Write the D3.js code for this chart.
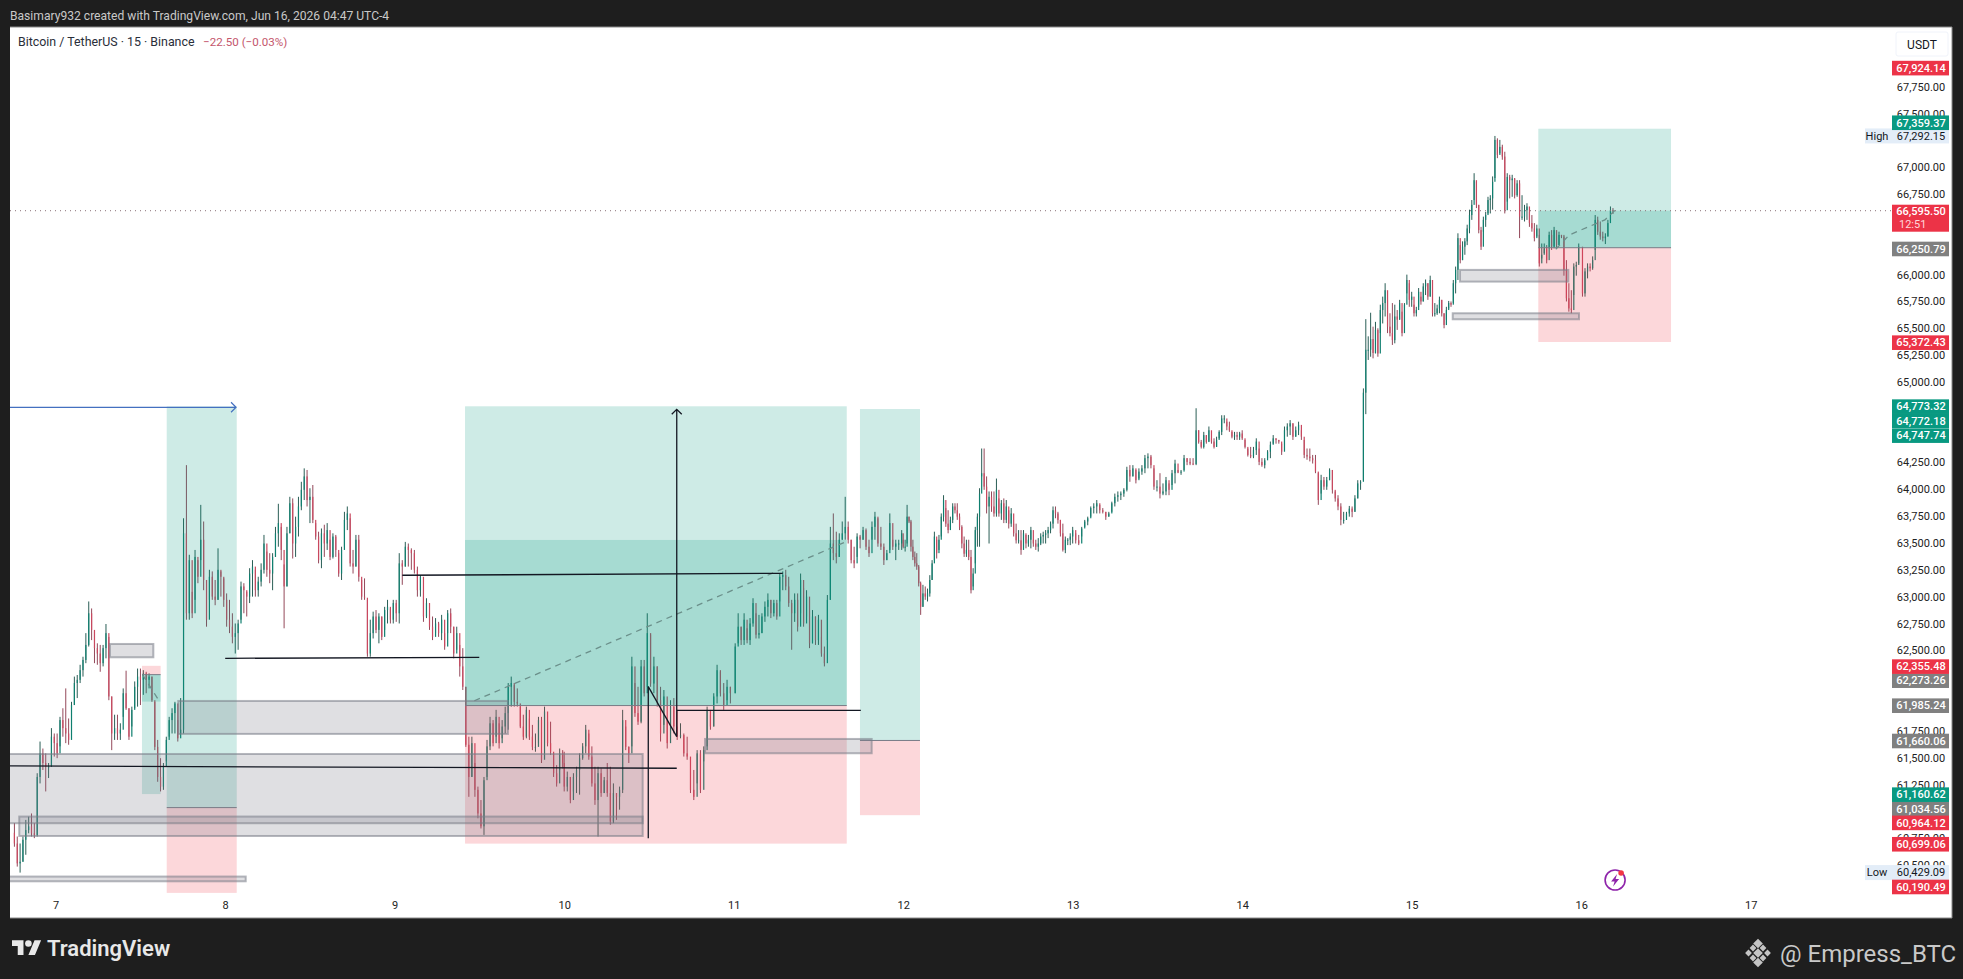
<!DOCTYPE html>
<html lang="en">
<head>
<meta charset="UTF-8">
<title>Bitcoin / TetherUS 15</title>
<style>
    html, body { margin: 0; padding: 0; background: #1e1e1e; overflow: hidden; }
    svg { display: block; }
    text { font-family: Roboto, "Noto Sans", sans-serif; }
</style>
</head>
<body>
<svg id="chart" width="1963" height="979"></svg>
<script src="https://cdn.jsdelivr.net/npm/d3@7/dist/d3.min.js"></script>
<script>
// one table per calendar day, rows are [high, low, close], open is the previous close
const day6 = [[60890,60670,60700],[60765,60485,60515],[60700,60429,60530],[60765,60530,60735],[60920,60595,60825],[60950,60795,60860],[60980,60765,60795],[60890,60750,60780],[61355,60765,61320],[61650,61260,61540],[61585,61385,61450],[61540,61185,61415],[61450,61310,61415],[61775,61415,61695],[61725,61510,61635]]
const day7 = [[61725,61495,61540],[61880,61605,61850],[61960,61695,61775],[62145,61635,61725],[61865,61620,61665],[62020,61775,61990],[62255,61990,62195],[62270,62055,62225],[62365,62195,62315],[62440,62255,62410],[62660,62380,62550],[62955,62535,62845],[62890,62595,62690],[62675,62380,62520],[62565,62365,62470],[62550,62300,62380],[62550,62350,62520],[62745,62425,62660],[62625,62035,62070],[62070,61570,61725],[61900,61665,61775],[61900,61665,61725],[61820,61665,61760],[62145,61880,62100],[62310,61945,61960],[61960,61665,61695],[61975,61790,61945],[62210,61960,62160],[62330,61975,62255],[62330,61990,62225],[62315,62085,62285],[62300,62100,62225],[62285,62145,62255],[62255,62020,62035],[62020,61570,61600],[61665,61275,61320],[61495,61185,61230],[61450,61200,61415],[61695,61465,61665],[61880,61695,61850],[61960,61725,61915],[62020,61725,62005],[61850,61650,61680],[62055,61725,61760],[63730,61725,63590],[64225,62785,62845],[63390,62785,63340],[63045,62800,62845],[63435,62970,63370],[63340,63125,63185],[63855,63340,63530],[63700,63060,63155],[63155,62720,62785],[63250,62970,63185],[63235,62970,63000],[63155,62920,62970],[63450,62970,63250],[63235,63000,63185],[63170,62905,62970]]
const day8 = [[63030,62720,62785],[62970,62660,62720],[62845,62565,62625],[62750,62470,62660],[62785,62505,62750],[63140,62785,63095],[63125,62845,63060],[63045,62815,63000],[63265,62940,63215],[63340,63000,63280],[63250,63000,63060],[63185,63000,63140],[63310,63095,63250],[63575,63215,63495],[63420,63185,63250],[63405,63125,63215],[63405,63060,63370],[63650,63370,63590],[63865,63465,63685],[63650,63340,63435],[63300,62705,63095],[63650,63095,63590],[63930,63590,63870],[63915,63355,63495],[63745,63370,63650],[63930,63560,63840],[64070,63805,63995],[64195,63900,64120],[64180,63840,63900],[64010,63685,63930],[64040,63685,63715],[63685,63530,63560],[63605,63310,63340],[63635,63265,63590],[63670,63370,63495],[63685,63435,63620],[63530,63340,63370],[63590,63355,63560],[63575,63370,63435],[63405,63185,63215],[63465,63155,63435],[63790,63465,63715],[63840,63620,63775],[63730,63280,63310],[63435,63215,63280],[63575,63280,63530],[63575,63140,63185],[63155,62970,63000],[63170,62970,62990],[62970,62440,62470],[62785,62440,62660],[62860,62610,62815],[62875,62660,62690],[62845,62565,62815],[62815,62595,62625],[62905,62690,62875],[62970,62750,62905],[62890,62750,62785],[62970,62750,62940]]
const day9 = [[62970,62765,62845],[63405,62750,63310],[63340,63110,63280],[63510,63280,63465],[63495,63280,63435],[63450,63250,63405],[63435,63215,63250],[63280,63000,63060],[63200,63000,63185],[63000,62765,62815],[62985,62800,62940],[62940,62690,62720],[62815,62595,62625],[62800,62660,62750],[62765,62625,62660],[62830,62595,62785],[62660,62505,62535],[62875,62660,62845],[62890,62660,62720],[62720,62425,62470],[62720,62505,62660],[62550,62255,62350],[62520,62130,62160],[62160,61600,61620],[61695,61135,61320],[61695,61320,61635],[61450,61135,61200],[61230,60935,60980],[61105,60840,60860],[61320,60780,61290],[61665,61320,61605],[61880,61570,61820],[61850,61605,61635],[61945,61695,61880],[61820,61585,61635],[61850,61680,61790],[61975,61725,61915],[62195,61760,62160],[62255,61975,62195],[62175,61975,62020],[62145,61975,62005],[61975,61775,61790],[61900,61665,61695],[61975,61680,61945],[61865,61665,61695],[61805,61570,61600],[61725,61555,61600],[61880,61635,61850],[61880,61450,61480],[61975,61635,61930],[61835,61605,61635],[61835,61525,61555],[61540,61320,61355],[61430,61230,61260],[61585,61385,61540],[61570,61400,61450]]
const day10 = [[61555,61185,61230],[61370,61185,61320],[61320,61075,61105],[61355,61185,61320],[61415,61170,61385],[61540,61155,61495],[61635,61480,61605],[61805,61540,61760],[61725,61480,61510],[61605,61230,61260],[61415,61060,61105],[61415,60765,61355],[61400,61135,61170],[61320,61170,61290],[61450,61135,61170],[61415,60875,60905],[61260,60890,61170],[61170,60920,61135],[61230,61015,61200],[61945,61170,61850],[61790,61570,61600],[61605,61450,61540],[62440,61605,62350],[62195,61880,61915],[62160,61805,61835],[62410,61820,62350],[62410,62070,62100],[62845,62160,62660],[62645,62160,62190],[62440,62100,62350],[62350,61975,62035],[62160,61650,61725],[62130,61805,62070],[61850,61585,61635],[62035,61725,61975],[62055,61725,61790],[61945,61665,61695],[61820,61680,61710],[61725,61510,61540],[61695,61480,61510],[61500,61170,61200],[61385,61105,61135],[61570,61260,61540],[61570,61170,61200],[61605,61465,61570],[61975,61605,61945],[61900,61760,61790],[62100,61790,62070],[62365,62005,62315],[62300,62070,62100],[62195,61945,61990],[62225,62035,62160],[62160,62005,62100]]
const day11 = [[62565,62100,62535],[62845,62565,62720],[62720,62550,62595],[62845,62550,62785],[62705,62565,62595],[62800,62550,62750],[62985,62720,62940],[62845,62610,62645],[62830,62610,62660],[62845,62660,62815],[62955,62765,62905],[63030,62815,62970],[62970,62800,62845],[62970,62815,62940],[62970,62785,62815],[63215,62955,63185],[63235,63060,63200],[63250,63060,63095],[63185,62905,62940],[62970,62505,62845],[63030,62765,62970],[63030,62675,62720],[63215,62845,63155],[63080,62720,62750],[63060,62815,63000],[62875,62520,62565],[62875,62565,62815],[62815,62550,62595],[62830,62550,62785],[62625,62440,62470],[62535,62350,62380],[63015,62595,62970],[63650,62970,63495],[63775,63340,63405],[63605,63310,63370],[63590,63370,63530],[63700,63530,63590],[63930,63530,63650],[63700,63495,63530],[63530,63310,63340],[63465,63265,63310],[63590,63370,63560],[63575,63450,63530],[63650,63530,63620],[63635,63435,63465],[63530,63370,63405],[63700,63530,63650],[63790,63530,63745],[63730,63465,63495],[63650,63435,63465],[63495,63295,63340],[63435,63340,63405],[63775,63435,63685],[63530,63435,63465],[63530,63340,63495],[63530,63435,63495],[63620,63435,63590]]
const day12 = [[63530,63450,63465],[63530,63420,63465],[63855,63495,63745],[63745,63685,63700],[63715,63420,63465],[63530,63340,63370],[63420,63280,63310],[63405,63250,63280],[63295,63095,63125],[63140,62830,62905],[63110,62905,63030],[63095,62970,63000],[63075,62955,63030],[63200,63000,63155],[63340,63155,63310],[63605,63340,63560],[63530,63355,63405],[63575,63435,63530],[63775,63560,63745],[63945,63700,63900],[63825,63650,63680],[63805,63590,63620],[63745,63650,63715],[63870,63685,63840],[63870,63775,63805],[63870,63715,63745],[63775,63620,63650],[63665,63450,63495],[63560,63370,63400],[63530,63370,63435],[63530,63340,63370],[63435,63030,63060],[63265,63095,63215],[63650,63310,63620],[63775,63465,63745],[64010,63465,63960],[64380,64120,64150],[64380,63995,64025],[64120,63775,63840],[63980,63495,63930],[63980,63790,63840],[63980,63745,63775],[64100,63745,63995],[63915,63745,63775],[63900,63715,63870],[63915,63685,63715],[63900,63685,63840],[63805,63635,63680],[63825,63650,63775],[63680,63560,63590],[63680,63495,63525],[63620,63495,63525],[63620,63390,63435],[63620,63465,63590],[63575,63450,63495],[63575,63465,63530],[63650,63450,63620],[63530,63465,63495],[63530,63435,63465],[63545,63420,63495],[63590,63480,63560],[63605,63495,63575],[63620,63495,63590],[63650,63545,63620],[63700,63590,63680],[63840,63635,63805],[63840,63730,63775],[63790,63680,63715],[63715,63560,63590],[63680,63420,63435],[63560,63405,63530],[63545,63480,63530],[63590,63480,63560]]
const day13 = [[63650,63495,63620],[63590,63495,63525],[63575,63480,63495],[63650,63560,63635],[63715,63650,63700],[63745,63665,63730],[63840,63745,63825],[63870,63775,63840],[63900,63775,63870],[63855,63775,63805],[63825,63775,63790],[63790,63715,63745],[63790,63745,63775],[63885,63790,63870],[63960,63840,63930],[63980,63885,63945],[63980,63900,63960],[64010,63930,63995],[64210,63980,64180],[64225,64070,64120],[64225,64120,64195],[64180,64055,64085],[64195,64100,64165],[64225,64135,64195],[64320,64150,64290],[64335,64195,64305],[64320,64195,64225],[64195,63995,64025],[64085,63980,64025],[64150,63915,63960],[64055,63945,63980],[64115,63945,64085],[64055,63945,63995],[64180,64040,64150],[64275,64055,64240],[64180,64150,64155],[64180,64135,64165],[64320,64180,64290],[64290,64225,64255],[64290,64225,64240],[64290,64225,64235],[64755,64225,64550],[64550,64425,64440],[64460,64380,64395],[64535,64380,64505],[64505,64425,64440],[64585,64445,64550],[64475,64425,64445],[64475,64380,64395],[64490,64395,64460],[64550,64475,64535],[64690,64505,64660],[64690,64615,64660],[64630,64550,64585],[64630,64535,64550],[64535,64475,64490],[64535,64460,64505],[64535,64460,64490],[64535,64460,64520]]
const day14 = [[64550,64460,64475],[64460,64380,64395],[64380,64305,64320],[64395,64290,64305],[64395,64290,64365],[64475,64320,64445],[64380,64225,64255],[64290,64210,64225],[64290,64195,64270],[64365,64290,64350],[64445,64290,64415],[64505,64425,64475],[64475,64425,64460],[64460,64425,64445],[64425,64320,64350],[64585,64415,64550],[64615,64490,64585],[64645,64505,64615],[64615,64460,64490],[64585,64490,64550],[64630,64505,64600],[64550,64460,64490],[64460,64290,64320],[64380,64275,64305],[64380,64260,64290],[64320,64240,64270],[64320,64150,64165],[64150,63855,63900],[64135,63960,64085],[64115,63995,64025],[64115,63995,64085],[64195,64085,64180],[64180,63960,63995],[63980,63885,63915],[63945,63805,63840],[63870,63665,63715],[63790,63680,63715],[63790,63715,63775],[63845,63745,63820],[63840,63740,63790],[63945,63790,63915],[64085,63915,64055],[64085,63995,64070],[64940,64085,64900],[65585,64700,65300],[65425,65205,65300],[65645,65235,65400],[65515,65220,65270],[65560,65265,65485],[65500,65235,65265],[65720,65455,65670],[65795,65545,65735],[65920,65610,65855],[65765,65455,65515],[65640,65425,65455],[65735,65345,65390],[65720,65360,65610],[65670,65485,65580],[65765,65580,65735],[65655,65425,65455],[65735,65655,65720],[66000,65825,65950],[65920,65700,65765]]
const day15 = [[65840,65700,65795],[65720,65610,65640],[65700,65610,65670],[65875,65700,65840],[65795,65720,65750],[65920,65750,65890],[65955,65810,65920],[65920,65765,65795],[65990,65795,65950],[65765,65610,65640],[65735,65610,65640],[65720,65625,65685],[65795,65640,65765],[65765,65610,65640],[65640,65500,65530],[65700,65580,65670],[65755,65685,65735],[65750,65700,65720],[65950,65735,65920],[66075,65825,66045],[66385,65950,66340],[66275,66105,66135],[66310,66135,66260],[66340,66185,66310],[66465,66275,66430],[66605,66385,66555],[66695,66510,66650],[66945,66695,66880],[66865,66620,66650],[66650,66385,66415],[66445,66230,66260],[66540,66400,66510],[66585,66445,66555],[66725,66570,66695],[66740,66570,66710],[66915,66605,66865],[67292,66900,67255],[67270,67085,67115],[67255,67130,67190],[67210,67070,67100],[67145,66570,66600],[66945,66680,66910],[66930,66710,66880],[66930,66725,66895],[66900,66710,66740],[66880,66725,66850],[66880,66340,66540],[66740,66510,66540],[66650,66495,66600],[66665,66510,66635],[66585,66445,66480],[66555,66400,66430],[66480,66310,66340],[66465,66355,66430],[66370,66075,66105],[66290,66150,66185],[66290,66200,66245],[66275,66105,66135],[66400,66245,66370],[66415,66230,66260],[66445,66245,66415],[66355,66245,66275],[66400,66275,66370],[66370,66340,66355],[66370,65990,66045],[66135,65750,65780],[65920,65655,65685],[65855,65640,65670],[66105,65810,66075],[66120,65990,66090],[66290,66105,66260]]
const day16 = [[65965,65795,65825],[66060,65795,66030],[66105,65965,66075],[66105,66030,66060],[66170,66045,66135],[66555,66230,66510],[66540,66370,66400],[66495,66325,66355],[66400,66310,66340],[66385,66285,66355],[66510,66355,66480],[66635,66495,66600],[66620,66565,66595.5]]

const firstOpen = 60800
const lastPrice = 66595.5

const dayLabels = [7, 8, 9, 10, 11, 12, 13, 14, 15, 16, 17]
// ticks that sit fully behind a price tag on the original are left out
const priceTicks = [60500, 60750, 61250, 61500, 61750, 62500, 62750, 63000, 63250, 63500, 63750, 64000, 64250, 65000, 65250, 65500, 65750, 66000, 66750, 67000, 67500, 67750]

// [row, time] pins for the big candles, so they stay on the right spot inside their day
const pins12 = [[9, 12.103], [31, 12.40], [36, 12.463]]
const pins10 = [[27, 10.49]]
const pins13 = [[41, 13.728]]
const pins14 = [[43, 14.715]]
const pins15 = [[36, 15.491]]

// long / short position tools: times in days, levels in USDT
const positions = [
    {t0: 7.509, t1: 7.619, target: 61160.62, entry: 62273.26, stop: 62355.48, reached: 62022},
    {t0: 7.655, t1: 8.068, target: 64772.18, entry: 61034.56, stop: 60240, reached: null},
    {t0: 9.415, t1: 11.667, target: 64773.32, entry: 61985.24, stop: 60699.06, reached: 63528},
    {t0: 11.745, t1: 12.099, target: 64747.74, entry: 61660.06, stop: 60964.12, reached: null},
    {t0: 15.747, t1: 16.53, target: 67359.37, entry: 66250.79, stop: 65372.43, reached: 66595.5},
]

// grey rectangles [t0, t1, top, bottom]
const boxes = [
    [7.320, 7.576, 62559, 62435],
    [7.723, 9.668, 62028, 61721],
    [6.70, 10.463, 61534, 60889],
    [6.785, 10.463, 60951, 60770],
    [6.70, 8.121, 60392, 60348],
    [10.831, 11.814, 61674, 61541],
    [15.285, 15.924, 66044, 65935],
    [15.242, 15.987, 65640, 65584],
]

// black trend lines [t0, p0, t1, p1]
const lines = [
    [8.0, 62425, 9.499, 62435],
    [9.045, 63199, 11.289, 63217],
    [6.70, 61423, 10.664, 61401],
    [10.496, 62162, 10.664, 61696],
    [10.496, 62162, 10.496, 60749],
    [10.664, 61941, 11.75, 61941],
]

// dashed paths from entry to exit of each position
const dashPaths = [
    [[7.512, 62273], [7.61, 62030]],
    [[9.47, 62030], [11.66, 63510]],
    [[15.85, 66236], [15.93, 66370], [16.14, 66510], [16.2, 66600]],
]

const upArrow = [10.664, 61696, 64745]
const blueArrow = [6.70, 8.064, 64764]

// price tags on the axis: text and where the tag ends up after the stacking
const redTags = [['67,924.14', 67924], ['65,372.43', 65366], ['62,355.48', 62348], ['60,964.12', 60892], ['60,699.06', 60693], ['60,190.49', 60295]]
const greenTags = [['67,359.37', 67415], ['64,773.32', 64770], ['64,772.18', 64639], ['64,747.74', 64500], ['61,160.62', 61155]]
const greyTags = [['66,250.79', 66239], ['62,273.26', 62217], ['61,985.24', 61984], ['61,660.06', 61655], ['61,034.56', 61022]]
const extremes = [['High', '67,292.15', 67292.15], ['Low', '60,429.09', 60429.09]]

const upCol = '#0f7f6f', downCol = '#c9485f'
const upWick = '#2a5e56', downWick = '#94485a'

const svg = d3.select('#chart')
const chart = {left: 10, right: 1952, top: 27, bottom: 918}

const x = d3.scaleLinear().domain([7, 17]).range([55.7, 1750.7])
const y = d3.scaleLinear().domain([60006, 68307]).range([chart.bottom, chart.top])

svg.append('rect').attr('x', chart.left).attr('y', chart.top)
    .attr('width', chart.right - chart.left).attr('height', chart.bottom - chart.top)
    .attr('fill', '#fff')
svg.append('path').attr('d', `M${chart.left},${chart.top}H${chart.right}V${chart.bottom}H${chart.left}`)
    .attr('fill', 'none').attr('stroke', '#8a8a8a').attr('stroke-width', 1)

svg.append('clipPath').attr('id', 'pane').append('rect')
    .attr('x', chart.left).attr('y', chart.top)
    .attr('width', 1892 - chart.left).attr('height', chart.bottom - chart.top)

// axes
const yAxis = d3.axisRight(y).tickValues(priceTicks).tickSize(0).tickPadding(0).tickFormat(d3.format(',.2f'))
const gy = svg.append('g').attr('transform', 'translate(1921,0)').call(yAxis)
gy.select('.domain').remove()
gy.selectAll('text').attr('x', 0).attr('text-anchor', 'middle').attr('font-size', 11).attr('fill', '#222')

const xAxis = d3.axisBottom(x).tickValues(dayLabels).tickSize(0).tickPadding(0).tickFormat(d3.format('d'))
const gx = svg.append('g').attr('transform', 'translate(0,901.5)').call(xAxis)
gx.select('.domain').remove()
gx.selectAll('text').attr('font-size', 11).attr('fill', '#222')

// candles
const segments = [[6.748, 7, day6], [7, 8, day7], [8, 9, day8], [9, 10, day9], [10, 11, day10, pins10], [11, 12, day11], [12, 13, day12, pins12], [13, 14, day13, pins13], [14, 15, day14, pins14], [15, 16, day15, pins15], [16, 16.195, day16]]
let prevClose = firstOpen
const bars = segments.flatMap(([t0, t1, rows, pins = []]) => {
    const timeOf = d3.scaleLinear()
        .domain([0, ...pins.map(p => p[0]), rows.length])
        .range([t0, ...pins.map(p => p[1]), t1])
    return rows.map((r, j) => {
        const bar = {t: timeOf(j + (pins.length ? 0 : 0.5)), high: r[0], low: r[1], open: prevClose, close: r[2]}
        prevClose = r[2]
        return bar
    })
})

const pane = svg.append('g').attr('clip-path', 'url(#pane)')
const candles = pane.append('g')
candles.selectAll('line').data(bars).enter().append('line')
    .attr('x1', d => x(d.t)).attr('x2', d => x(d.t))
    .attr('y1', d => y(d.high)).attr('y2', d => y(d.low))
    .attr('stroke', d => d.close >= d.open ? upWick : downWick)
    .attr('stroke-width', 1)
candles.selectAll('rect').data(bars).enter().append('rect')
    .attr('x', d => x(d.t) - 0.6).attr('width', 1.2)
    .attr('y', d => y(Math.max(d.open, d.close)))
    .attr('height', d => Math.max(1, Math.abs(y(d.open) - y(d.close))))
    .attr('fill', d => d.close >= d.open ? upCol : downCol)

// position tools
const teal = 'rgba(8,153,129,0.2)', pink = 'rgba(242,54,69,0.2)'
function band(t0, t1, a, b, fill) {
    pane.append('rect').attr('x', x(t0)).attr('width', x(t1) - x(t0))
        .attr('y', y(Math.max(a, b))).attr('height', Math.abs(y(a) - y(b))).attr('fill', fill)
}
positions.forEach(p => {
    band(p.t0, p.t1, p.target, p.entry, teal)
    band(p.t0, p.t1, p.entry, p.stop, pink)
    if (p.reached) band(p.t0, p.t1, p.entry, p.reached, teal)
    pane.append('line').attr('x1', x(p.t0)).attr('x2', x(p.t1)).attr('y1', y(p.entry)).attr('y2', y(p.entry))
        .attr('stroke', '#787b86').attr('stroke-width', 1)
})
const dashLine = d3.line().x(d => x(d[0])).y(d => y(d[1]))
pane.selectAll('path.dash').data(dashPaths).enter().append('path').attr('class', 'dash')
    .attr('d', dashLine).attr('fill', 'none').attr('stroke', '#6b8f8a')
    .attr('stroke-width', 1.3).attr('stroke-dasharray', '6 5')

// grey boxes
pane.selectAll('rect.box').data(boxes).enter().append('rect').attr('class', 'box')
    .attr('x', d => x(d[0])).attr('width', d => x(d[1]) - x(d[0]))
    .attr('y', d => y(d[2])).attr('height', d => y(d[3]) - y(d[2]))
    .attr('fill', 'rgba(120,123,134,0.24)')
    .attr('stroke', 'rgba(120,123,134,0.55)').attr('stroke-width', 2)

// trend lines
pane.selectAll('line.trend').data(lines).enter().append('line').attr('class', 'trend')
    .attr('x1', d => x(d[0])).attr('y1', d => y(d[1]))
    .attr('x2', d => x(d[2])).attr('y2', d => y(d[3]))
    .attr('stroke', '#131722').attr('stroke-width', 1.3)

// arrows
const ax = x(upArrow[0]), ayTop = y(upArrow[2])
pane.append('path').attr('d', `M${ax},${y(upArrow[1])}V${ayTop}M${ax - 5},${ayTop + 5}L${ax},${ayTop}L${ax + 5},${ayTop + 5}`)
    .attr('fill', 'none').attr('stroke', '#131722').attr('stroke-width', 1.3)
const bx = x(blueArrow[1]), by = y(blueArrow[2])
pane.append('path').attr('d', `M${x(blueArrow[0])},${by}H${bx}M${bx - 5},${by - 5}L${bx},${by}L${bx - 5},${by + 5}`)
    .attr('fill', 'none').attr('stroke', '#4470c0').attr('stroke-width', 1.2)

// last price line
pane.append('line').attr('x1', chart.left).attr('x2', 1892).attr('y1', y(lastPrice)).attr('y2', y(lastPrice))
    .attr('stroke', '#8a7076').attr('stroke-width', 1).attr('stroke-dasharray', '1 4')

// header texts
svg.append('text').attr('x', 10).attr('y', 19.5).attr('font-size', 12.1).attr('fill', '#c9c9c9')
    .text('Basimary932 created with TradingView.com, Jun 16, 2026 04:47 UTC-4')
svg.append('text').attr('x', 18).attr('y', 46).attr('font-size', 12.4).attr('fill', '#2a2e39')
    .text('Bitcoin / TetherUS · 15 · Binance')
svg.append('text').attr('x', 203).attr('y', 46).attr('font-size', 11.6).attr('fill', '#c4566c')
    .text('−22.50 (−0.03%)')

// USDT box
svg.append('rect').attr('x', 1896).attr('y', 32).attr('width', 52).attr('height', 24).attr('rx', 2)
    .attr('fill', '#fff').attr('stroke', '#f0f3fa')
svg.append('text').attr('x', 1922).attr('y', 48.5).attr('text-anchor', 'middle').attr('font-size', 12).attr('fill', '#131722').text('USDT')

// extreme labels
extremes.forEach(([name, value, level]) => {
    const yy = y(level)
    svg.append('rect').attr('x', 1865).attr('y', yy - 7.5).attr('width', 84).attr('height', 15).attr('fill', '#e3edf8')
    svg.append('text').attr('x', 1877).attr('y', yy + 3.8).attr('text-anchor', 'middle').attr('font-size', 11).attr('fill', '#131722').text(name)
    svg.append('text').attr('x', 1921).attr('y', yy + 3.8).attr('text-anchor', 'middle').attr('font-size', 11).attr('fill', '#131722').text(value)
})

// price tags
function tag(list, fill) {
    list.forEach(([label, level]) => {
        const yy = y(level)
        svg.append('rect').attr('x', 1892).attr('y', yy - 7.3).attr('width', 57).attr('height', 14.6).attr('fill', fill)
        svg.append('text').attr('x', 1921).attr('y', yy + 3.8).attr('text-anchor', 'middle')
            .attr('font-size', 11).attr('font-weight', 500).attr('fill', '#fff').text(label)
    })
}
tag(greyTags, '#808080')
tag(greenTags, '#089981')
tag(redTags, '#ec3347')

// last price tag with the countdown
svg.append('rect').attr('x', 1892).attr('y', y(lastPrice) - 6).attr('width', 57).attr('height', 27).attr('fill', '#ec3347')
svg.append('text').attr('x', 1921).attr('y', y(lastPrice) + 4.5).attr('text-anchor', 'middle')
    .attr('font-size', 11).attr('font-weight', 500).attr('fill', '#fff').text('66,595.50')
svg.append('text').attr('x', 1899).attr('y', y(lastPrice) + 17.5)
    .attr('font-size', 11).attr('fill', '#ffd6da').text('12:51')

// lightning badge
const badge = svg.append('g').attr('transform', `translate(${x(16.2)},880)`)
badge.append('circle').attr('r', 10).attr('fill', 'none').attr('stroke', '#8e24aa').attr('stroke-width', 1.6)
badge.append('path').attr('d', 'M2,-6L-4,1.5H-0.5L-2,6.5L4,-1H0.5Z').attr('fill', '#8e24aa')
badge.append('circle').attr('cx', 6).attr('cy', -7).attr('r', 2.8).attr('fill', '#f23645')

// footer: TradingView logo and watermark
const logo = svg.append('g').attr('transform', 'translate(12,937) scale(0.82)').attr('fill', '#e8e8e8')
logo.append('path').attr('d', 'M14 22H7V11H0V4h14v18zM28 22h-8l7.5-18h8L28 22z')
logo.append('circle').attr('cx', 20).attr('cy', 8).attr('r', 4)
svg.append('text').attr('x', 47).attr('y', 956).attr('font-size', 22).attr('font-weight', 600)
    .attr('fill', '#e8e8e8').text('TradingView')

const diamond = svg.append('g').attr('transform', 'translate(1758,953)').attr('fill', '#c4c4c4')
diamond.selectAll('rect').data([[0, -9.5, 3.4], [-9.5, 0, 2.4], [9.5, 0, 2.4], [0, 0, 3.4], [0, 9.5, 3.4], [-5, -5, 2.4], [5, -5, 2.4], [-5, 5, 2.4], [5, 5, 2.4]]).enter().append('rect')
    .attr('x', d => d[0] - d[2]).attr('y', d => d[1] - d[2])
    .attr('width', d => d[2] * 2).attr('height', d => d[2] * 2)
    .attr('transform', d => `rotate(45 ${d[0]} ${d[1]})`)
svg.append('text').attr('x', 1780).attr('y', 962).attr('font-size', 24).attr('fill', '#c9c9c9')
    .text('@ Empress_BTC')
</script>
</body>
</html>
